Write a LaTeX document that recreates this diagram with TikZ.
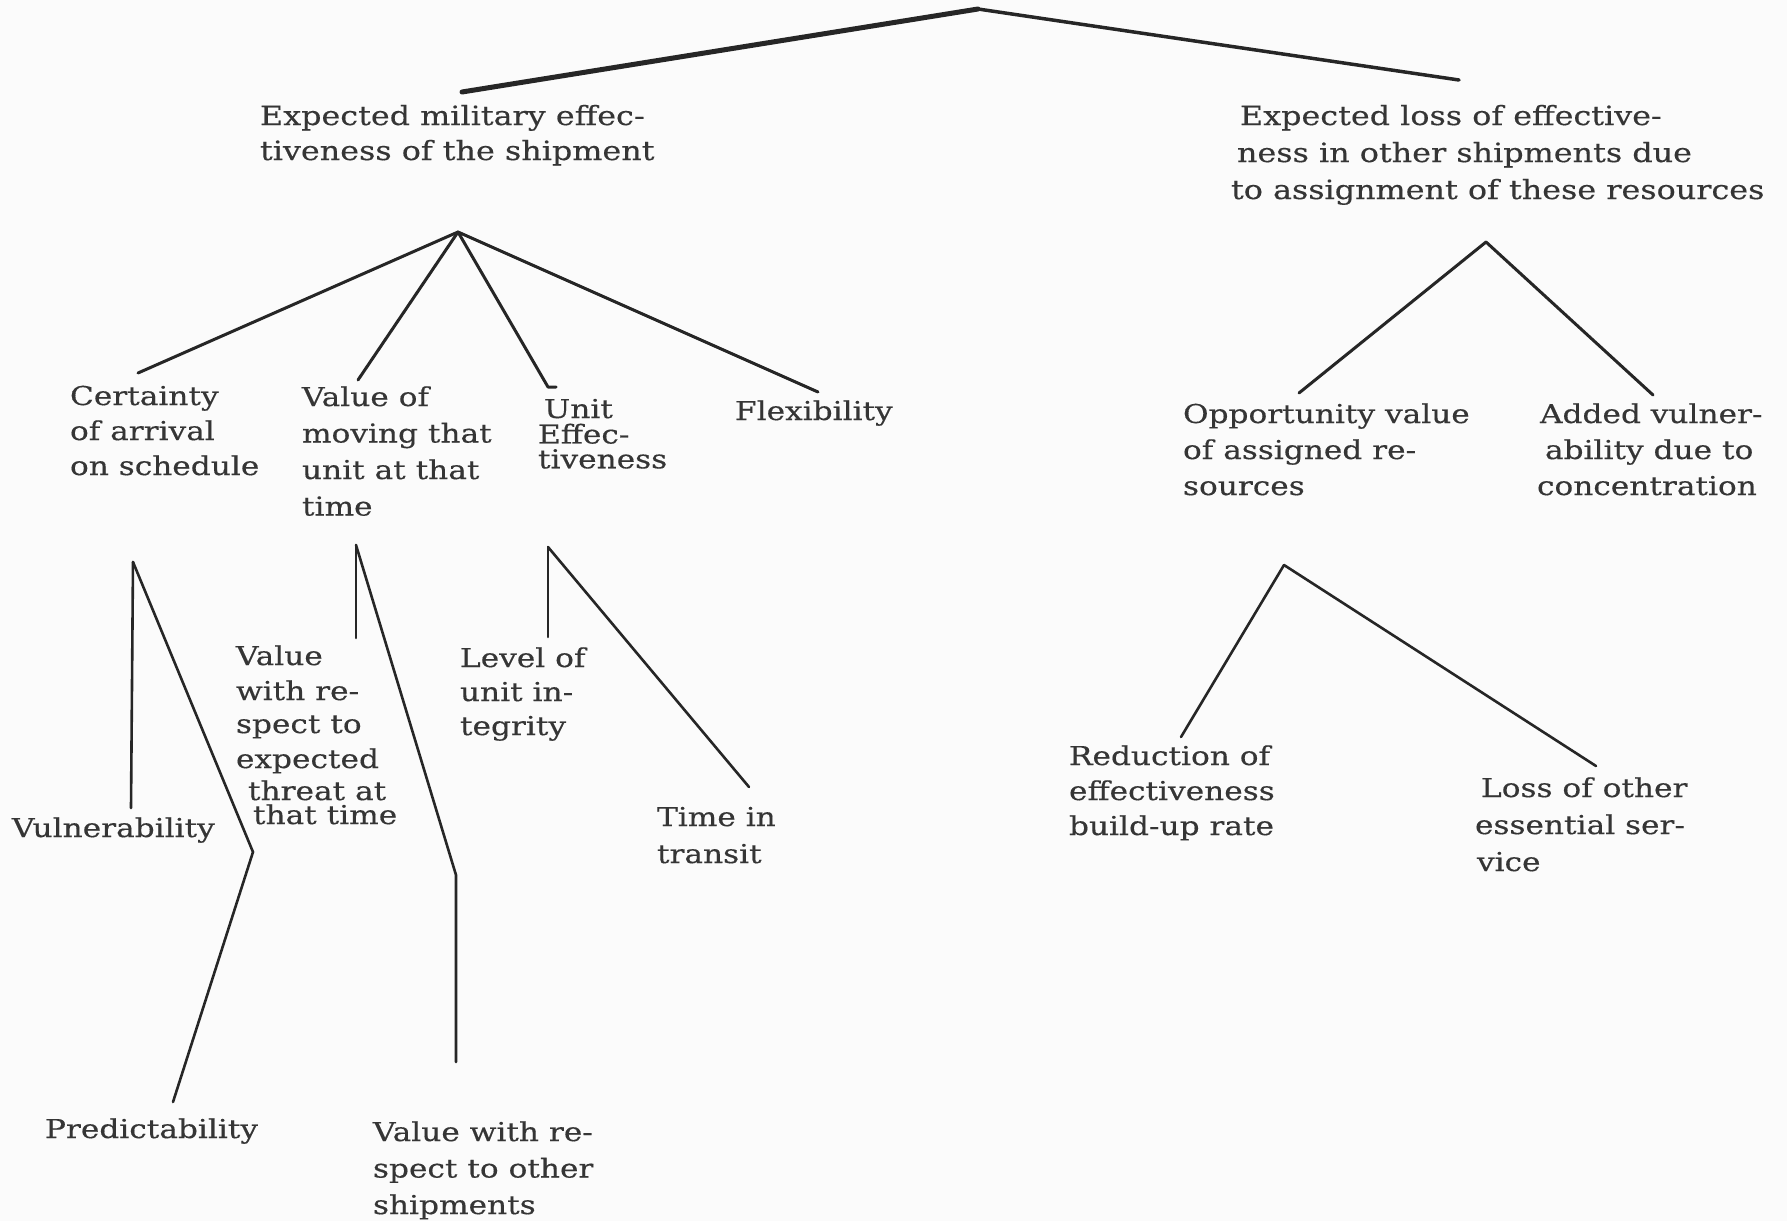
\documentclass[tikz,border=0pt]{standalone}
\usepackage{fontspec}
\setmainfont{DejaVu Serif}[FakeStretch=1.2, FakeBold=0.4]

\definecolor{ink}{HTML}{262626}
\definecolor{textink}{HTML}{353535}
\definecolor{paper}{HTML}{FBFBFB}

% left-aligned block of lines whose baseline is the first line
\newcommand\stack[1]{\begin{tabular}[t]{@{}l@{}}#1\end{tabular}}

\tikzset{
  lbltext/.style={anchor=base west, inner sep=0pt, outer sep=0pt, text=textink,
                  font=\fontsize{26}{35}\selectfont},
  toptext/.style={lbltext, font=\fontsize{26.5}{35}\selectfont},
  branch/.style={draw=ink, line width=3pt, line cap=round, line join=round},
}

\begin{document}
\begin{tikzpicture}[x=1pt, y=-1pt]
\fill[paper] (0,0) rectangle (1787,1221);
\useasboundingbox (0,0) rectangle (1787,1221);

% ---------- top split ----------
\coordinate (top) at (978,9);
\coordinate (tl)  at (462,92);
\coordinate (tr)  at (1459,80);
\draw[branch, line width=5pt] (top) -- (tl);
\draw[branch, line width=3.5pt] (top) -- (tr);

\node[toptext] (mil) at (260,125)
  {\stack{Expected military effec-\\tiveness of the shipment}};
\node[toptext, font=\fontsize{26.5}{37}\selectfont] (loss) at (1240,125)
  {\stack{Expected loss of effective-\\
          \hspace*{-3pt}ness in other shipments due\\
          \hspace*{-9pt}to assignment of these resources}};

% ---------- military effectiveness branch ----------
\coordinate (ma) at (458,232);
\coordinate (c1) at (138,373);
\coordinate (c2) at (358,380);
\coordinate (c3) at (548,387);
\coordinate (c3f) at (556,387);
\coordinate (c4) at (818,392);
\draw[branch] (ma) -- (c1);
\draw[branch] (ma) -- (c2);
\draw[branch] (ma) -- (c3) -- (c3f);
\draw[branch] (ma) -- (c4);

\node[lbltext] (cert) at (70,405)
  {\stack{Certainty\\of arrival\\on schedule}};
\node[lbltext, font=\fontsize{26}{36.5}\selectfont] (valmov) at (302,406)
  {\stack{Value of\\moving that\\unit at that\\time}};
\node[lbltext, font=\fontsize{26}{19}\selectfont] (unit) at (538,418)
  {\stack{\hspace*{6pt}Unit\\Effec-\\tiveness}};
\node[lbltext] (flex) at (735,420) {Flexibility};

% certainty of arrival
\coordinate (ca) at (133,562);
\coordinate (cv) at (131,808);
\coordinate (cb) at (253,852);
\coordinate (cp) at (173,1102);
\draw[branch, line width=2.6pt] (ca) -- (cv);
\draw[branch, line width=2.6pt, line join=miter] (ca) -- (cb) -- (cp);
\node[lbltext] (vuln) at (12,837) {Vulnerability};
\node[lbltext] (pred) at (45,1138) {Predictability};

% value of moving that unit
\coordinate (va) at (356,545);
\coordinate (vv) at (356,638);
\coordinate (vb) at (456,875);
\coordinate (vo) at (456,1062);
\draw[branch, line width=2.6pt] (va) -- (vv);
\draw[branch, line width=2.6pt, line join=miter] (va) -- (vb) -- (vo);
\node[lbltext] (valthr) at (236,665)
  {\stack{Value\\with re-\\[-2pt]spect to\\expected\\[-3pt]
          \hspace*{12pt}threat at\\[-11pt]\hspace*{17pt}that time}};
\node[lbltext, font=\fontsize{26}{36.5}\selectfont] (valoth) at (373,1141)
  {\stack{Value with re-\\spect to other\\shipments}};

% unit effectiveness
\coordinate (ua) at (548,547);
\coordinate (uv) at (548,637);
\coordinate (ut) at (749,787);
\draw[branch, line width=2.6pt] (ua) -- (uv);
\draw[branch, line width=2.6pt] (ua) -- (ut);
\node[lbltext, font=\fontsize{26}{34}\selectfont] (level) at (460,667)
  {\stack{Level of\\unit in-\\tegrity}};
\node[lbltext, font=\fontsize{26}{37}\selectfont] (transit) at (657,826)
  {\stack{Time in\\transit}};

% ---------- loss in other shipments branch ----------
\coordinate (ra) at (1486,242);
\coordinate (r1) at (1299,393);
\coordinate (r2) at (1653,395);
\draw[branch] (ra) -- (r1);
\draw[branch] (ra) -- (r2);

\node[lbltext, font=\fontsize{26}{36}\selectfont] (opp) at (1183,423)
  {\stack{Opportunity value\\of assigned re-\\sources}};
\node[lbltext, font=\fontsize{26}{36}\selectfont] (added) at (1540,423)
  {\stack{Added vulner-\\\hspace*{5pt}ability due to\\\hspace*{-3pt}concentration}};

\coordinate (oa) at (1284,565);
\coordinate (o1) at (1181,737);
\coordinate (o2) at (1596,766);
\draw[branch, line width=2.6pt] (oa) -- (o1);
\draw[branch, line width=2.6pt] (oa) -- (o2);

\node[lbltext] (red) at (1069,765)
  {\stack{Reduction of\\effectiveness\\build-up rate}};
\node[lbltext, font=\fontsize{26}{37}\selectfont] (lossoth) at (1481,797)
  {\stack{Loss of other\\\hspace*{-6pt}essential ser-\\\hspace*{-4pt}vice}};
\end{tikzpicture}
\end{document}
